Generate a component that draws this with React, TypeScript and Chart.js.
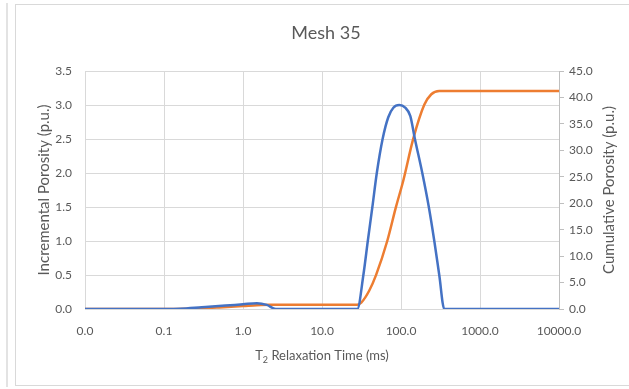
import React, { useEffect, useRef } from 'react';
import { Chart, registerables } from 'chart.js';

Chart.register(...registerables);

const chartTitle = 'Mesh 35';
const xTitleMain = 'T';
const xTitleSub = '2';
const xTitleRest = ' Relaxation Time (ms)';
const yLeftTitle = 'Incremental Porosity (p.u.)';
const yRightTitle = 'Cumulative Porosity (p.u.)';

const xTickValues = [0.01, 0.1, 1, 10, 100, 1000, 10000];
const xTickLabels = ['0.0', '0.1', '1.0', '10.0', '100.0', '1000.0', '10000.0'];

// Incremental porosity (left axis)
const incTimes = [0.01, 0.1, 0.16, 0.3, 0.6, 1.0, 1.5, 2.0, 2.6, 10, 28, 33.4, 38.0, 43.4, 49.4, 58.5, 69, 80, 95.1, 113, 131, 150, 186, 225, 264, 305, 353, 1000, 10000];
const incValues = [0, 0, 0.003, 0.025, 0.05, 0.07, 0.085, 0.06, 0, 0, 0, 0.5, 1.0, 1.5, 2.0, 2.5, 2.82, 2.96, 3.0, 2.96, 2.84, 2.5, 2.0, 1.5, 1.0, 0.5, 0, 0, 0];

// Cumulative porosity (right axis)
const cumTimes = [0.01, 0.1, 0.2, 0.5, 1.0, 1.5, 2.2, 10, 28, 31.4, 39.7, 48.3, 67.1, 86.4, 107, 143, 197, 242, 305, 1000, 10000];
const cumValues = [0, 0, 0.05, 0.3, 0.55, 0.72, 0.8, 0.8, 0.8, 1.2, 3.5, 6.4, 12.9, 19.3, 24.3, 32.2, 38.6, 40.6, 41.2, 41.2, 41.2];

const FONT = 'Lato, "Open Sans", sans-serif';
const TEXT = '#595959';
const GRID = '#d9d9d9';

const titlesPlugin = {
  id: 'customTitles',
  afterDraw(chart: any) {
    const ctx = chart.ctx as CanvasRenderingContext2D;
    const area = chart.chartArea;
    ctx.save();
    ctx.fillStyle = TEXT;
    ctx.textBaseline = 'middle';
    ctx.textAlign = 'center';
    ctx.font = `18px ${FONT}`;
    ctx.fillText(chartTitle, 326, 33);

    // x title with subscript
    ctx.font = `13px ${FONT}`;
    const wMain = ctx.measureText(xTitleMain).width;
    const wRest = ctx.measureText(xTitleRest).width;
    ctx.font = `9px ${FONT}`;
    const wSub = ctx.measureText(xTitleSub).width;
    const cx = (area.left + area.right) / 2;
    let x = cx - (wMain + wSub + wRest) / 2;
    const y = 356;
    ctx.textAlign = 'left';
    ctx.font = `13px ${FONT}`;
    ctx.fillText(xTitleMain, x, y);
    x += wMain;
    ctx.font = `9px ${FONT}`;
    ctx.fillText(xTitleSub, x, y + 4);
    x += wSub;
    ctx.font = `13px ${FONT}`;
    ctx.fillText(xTitleRest, x, y);

    const cy = (area.top + area.bottom) / 2;
    ctx.textAlign = 'center';
    ctx.font = `15px ${FONT}`;
    ctx.translate(44, cy);
    ctx.rotate(-Math.PI / 2);
    ctx.fillText(yLeftTitle, 0, 0);
    ctx.restore();

    ctx.save();
    ctx.fillStyle = TEXT;
    ctx.textBaseline = 'middle';
    ctx.textAlign = 'center';
    ctx.font = `15px ${FONT}`;
    ctx.translate(609, cy);
    ctx.rotate(-Math.PI / 2);
    ctx.fillText(yRightTitle, 0, 0);
    ctx.restore();
  },
};

export default function App() {
  const canvasRef = useRef<HTMLCanvasElement | null>(null);

  useEffect(() => {
    if (!canvasRef.current) return;
    const chart = new Chart(canvasRef.current, {
      type: 'line',
      data: {
        datasets: [
          {
            label: 'Incremental',
            data: incTimes.map((t, i) => ({ x: t, y: incValues[i] })),
            borderColor: '#4472C4',
            borderWidth: 2.5,
            pointRadius: 0,
            cubicInterpolationMode: 'monotone',
            fill: false,
            yAxisID: 'y',
          },
          {
            label: 'Cumulative',
            data: cumTimes.map((t, i) => ({ x: t, y: cumValues[i] })),
            borderColor: '#ED7D31',
            borderWidth: 2.5,
            pointRadius: 0,
            cubicInterpolationMode: 'monotone',
            fill: false,
            yAxisID: 'y1',
          },
        ],
      },
      options: {
        animation: false,
        responsive: false,
        devicePixelRatio: 1,
        layout: { padding: { top: 71, left: 0, right: 0, bottom: 0 } },
        plugins: {
          legend: { display: false },
          title: { display: false },
          tooltip: { enabled: false },
        },
        scales: {
          x: {
            type: 'logarithmic',
            min: 0.01,
            max: 10000,
            afterBuildTicks: (s: any) => {
              s.ticks = xTickValues.map((v) => ({ value: v }));
            },
            afterFit: (s: any) => {
              s.height = 80;
            },
            grid: { color: GRID, drawTicks: false },
            border: { color: GRID },
            ticks: {
              color: TEXT,
              font: { family: FONT, size: 12 },
              padding: 15,
              autoSkip: false,
              maxRotation: 0,
              callback: (v: any) => {
                const i = xTickValues.indexOf(Number(v));
                return i >= 0 ? xTickLabels[i] : '';
              },
            },
          },
          y: {
            position: 'left',
            min: 0,
            max: 3.5,
            afterFit: (s: any) => {
              s.width = 85;
            },
            grid: { color: GRID, drawTicks: false },
            border: { color: GRID },
            ticks: {
              stepSize: 0.5,
              color: TEXT,
              font: { family: FONT, size: 12 },
              padding: 13,
              callback: (v: any) => Number(v).toFixed(1),
            },
          },
          y1: {
            position: 'right',
            min: 0,
            max: 45,
            afterFit: (s: any) => {
              s.width = 70;
            },
            grid: { drawOnChartArea: false, drawTicks: true, tickLength: 5, color: '#bfbfbf' },
            border: { display: true, color: '#bfbfbf' },
            ticks: {
              stepSize: 5,
              color: TEXT,
              font: { family: FONT, size: 12 },
              padding: 5,
              callback: (v: any) => Number(v).toFixed(1),
            },
          },
        },
      },
      plugins: [titlesPlugin],
    } as any);
    return () => chart.destroy();
  }, []);

  return (
    <div style={{ position: 'fixed', left: 0, top: 0, width: 629, height: 389, overflow: 'hidden', background: '#fff' }}>
      <div style={{ position: 'absolute', left: 6, top: 3, width: 2, height: 384, background: '#e3e3e3' }} />
      <div
        style={{
          position: 'absolute',
          left: 15,
          top: 4,
          width: 640,
          height: 382,
          border: '1px solid #d9d9d9',
          boxSizing: 'border-box',
        }}
      />
      <canvas ref={canvasRef} width={629} height={389} style={{ position: 'absolute', left: 0, top: 0, width: 629, height: 389 }} />
    </div>
  );
}
